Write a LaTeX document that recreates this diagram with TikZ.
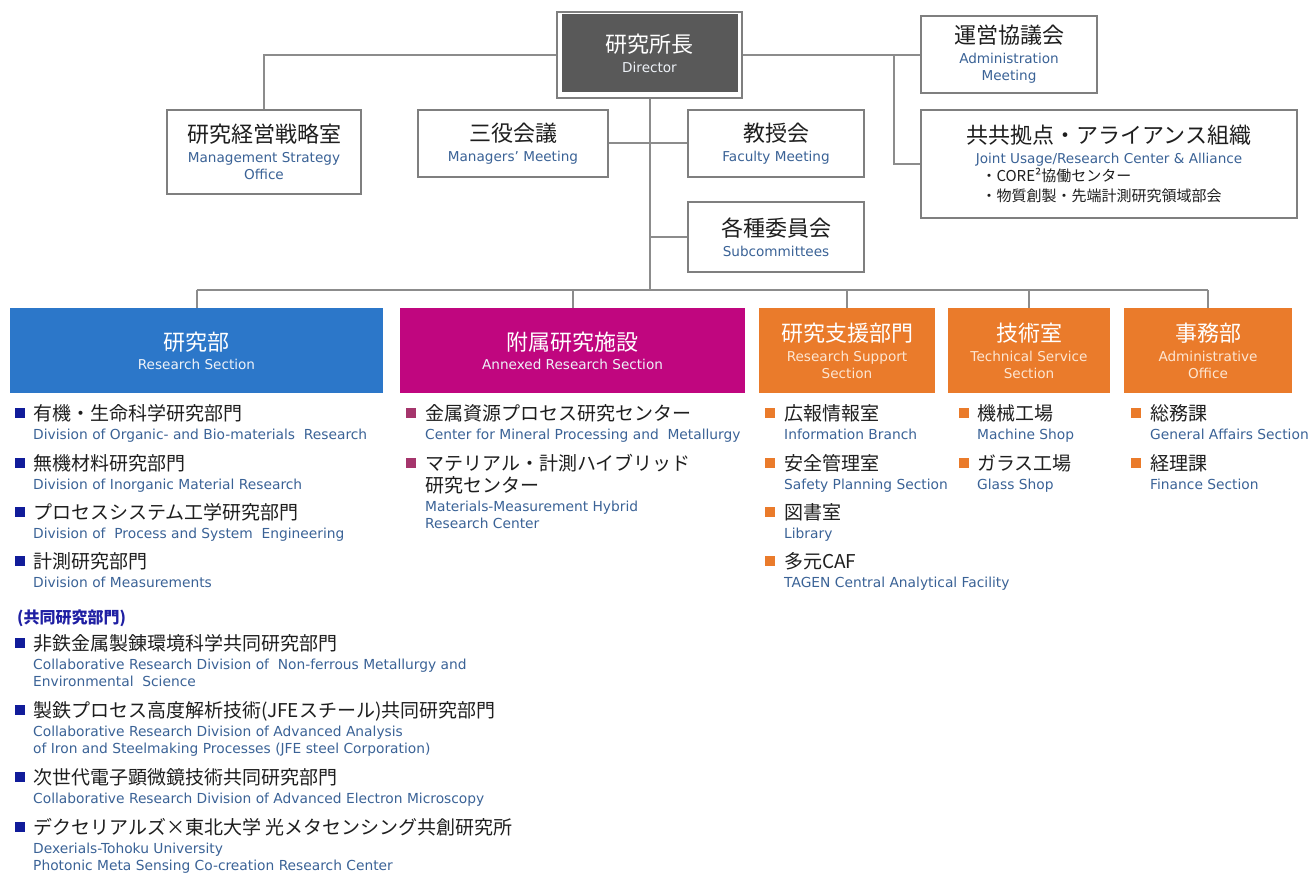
\documentclass[tikz,border=0pt]{standalone}
\usepackage{fontspec}
\setmainfont{DejaVu Sans}
\newfontfamily\jp{Noto Sans CJK JP}
\usetikzlibrary{calc}
\definecolor{entext}{HTML}{3A6296}
\definecolor{boxline}{HTML}{7F7F7F}
\definecolor{conncol}{HTML}{8C8C8C}
\definecolor{dirfill}{HTML}{595959}
\definecolor{resblue}{HTML}{2C77C9}
\definecolor{anxmag}{HTML}{C0067F}
\definecolor{orng}{HTML}{EA7B2B}
\definecolor{bulblue}{HTML}{111C9A}
\definecolor{bulmag}{HTML}{A5356C}
\definecolor{hdrblue}{HTML}{1F1FA3}
\definecolor{jptext}{HTML}{1E1E1E}
\definecolor{paleor}{HTML}{FDE6D2}
\definecolor{palewh}{HTML}{EEF2F8}
\newcommand\JT[1]{{\jp\fontsize{22}{17}\selectfont\color{jptext}#1}}
\newcommand\JW[1]{{\jp\fontsize{22}{17}\selectfont\color{white}#1}}
\newcommand\JL[1]{{\jp\fontsize{19}{17}\selectfont\color{jptext}#1}}
\newcommand\JS[1]{{\jp\fontsize{15}{17}\selectfont\color{jptext}#1}}
\tikzset{
  box/.style={draw=boxline, line width=1.3pt, fill=white, inner sep=0pt, align=center,
    font=\fontsize{13.6}{17}\selectfont, text=entext},
  secbox/.style={fill=#1, inner sep=0pt, align=center, font=\fontsize{13.6}{17}\selectfont},
  conn/.style={draw=conncol, line width=2pt},
  bul/.style={fill=#1, minimum size=10pt, inner sep=0pt},
  itm/.style={anchor=north west, inner sep=0pt, align=left,
    font=\fontsize{13.8}{17}\selectfont, text=entext},
}
\newcommand\orgitem[6]{%
  \node[bul=#5] (#1b) at (#2,#4) {};
  \node[itm] (#1) at (#3,#4-8.5) {#6};}
\begin{document}
\begin{tikzpicture}[x=1pt,y=-1pt]
\useasboundingbox (0,0) rectangle (1313,877);
% ---------- upper boxes
\node[box, minimum width=185pt, minimum height=86pt] (dirO) at (649.5,55) {};
\node[fill=dirfill, minimum width=176pt, minimum height=78pt, inner sep=0pt, align=center,
  text=palewh, font=\fontsize{13.6}{17}\selectfont] (dir) at (649.5,53) {\JW{研究所長}\\[3pt]Director};
\node[box, minimum width=176pt, minimum height=77pt] (adm) at (1009,54.5)
  {\JT{運営協議会}\\[3pt]Administration\\Meeting};
\node[box, minimum width=194pt, minimum height=84pt] (mso) at (264,152)
  {\JT{研究経営戦略室}\\[3pt]Management Strategy\\Office};
\node[box, minimum width=190pt, minimum height=67pt] (san) at (513,143.5)
  {\JT{三役会議}\\[3pt]Managers’ Meeting};
\node[box, minimum width=176pt, minimum height=67pt] (fac) at (776,143.5)
  {\JT{教授会}\\[3pt]Faculty Meeting};
\node[box, minimum width=176pt, minimum height=70pt] (sub) at (776,237)
  {\JT{各種委員会}\\[3pt]Subcommittees};
\node[box, minimum width=376pt, minimum height=108pt] (jus) at (1109,164)
  {\JT{共共拠点・アライアンス組織}\\[3pt]Joint Usage/Research Center \& Alliance\\[1.7pt]
   \JS{\makebox[255pt][l]{・CORE²協働センター}}\\[3pt]
   \JS{\makebox[255pt][l]{・物質創製・先端計測研究領域部会}}};
% ---------- sections
\node[secbox=resblue, minimum width=373pt, minimum height=85pt, text=palewh] (res) at (196.5,350.5)
  {\JW{研究部}\\[2pt]Research Section};
\node[secbox=anxmag, minimum width=345pt, minimum height=85pt, text=palewh] (anx) at (572.5,350.5)
  {\JW{附属研究施設}\\[2pt]Annexed Research Section};
\node[secbox=orng, minimum width=176pt, minimum height=85pt, text=paleor] (sup) at (847,350.5)
  {\JW{研究支援部門}\\[3pt]Research Support\\Section};
\node[secbox=orng, minimum width=162pt, minimum height=85pt, text=paleor] (tec) at (1029,350.5)
  {\JW{技術室}\\[3pt]Technical Service\\Section};
\node[secbox=orng, minimum width=168pt, minimum height=85pt, text=paleor] (adf) at (1208,350.5)
  {\JW{事務部}\\[3pt]Administrative\\Office};
% ---------- connectors
\coordinate (bus) at (649.5,290);
\coordinate (jv) at (894,55);
\draw[conn] (dirO.west) -| (mso.north);
\draw[conn] (dirO.east) -- (dirO.east -| adm.west);
\draw[conn] (jv) |- (jus.west);
\draw[conn] (dirO.south) -- (bus);
\draw[conn] (san.east) -- (san.east -| bus);
\draw[conn] (fac.west) -- (fac.west -| bus);
\draw[conn] (sub.west) -- (sub.west -| bus);
\draw[conn] (res.north |- bus) -- (adf.north |- bus);
\foreach \n in {res,anx,sup,tec,adf} \draw[conn] (\n.north |- bus) -- (\n.north);
% ---------- research section list
\orgitem{La}{19.5}{33}{413}{bulblue}{\JL{有機・生命科学研究部門}\\[1.5pt]Division of Organic- and Bio-materials~ Research}
\orgitem{Lb}{19.5}{33}{463}{bulblue}{\JL{無機材料研究部門}\\[1.5pt]Division of Inorganic Material Research}
\orgitem{Lc}{19.5}{33}{512}{bulblue}{\JL{プロセスシステム工学研究部門}\\[1.5pt]Division of~ Process and System~ Engineering}
\orgitem{Ld}{19.5}{33}{561}{bulblue}{\JL{計測研究部門}\\[1.5pt]Division of Measurements}
\node[anchor=west, inner sep=0pt, text=hdrblue, font=\jp\bfseries\fontsize{16}{17}\selectfont] (collab) at (17,618) {(共同研究部門)};
\orgitem{Le}{19.5}{33}{643}{bulblue}{\JL{非鉄金属製錬環境科学共同研究部門}\\[1.5pt]Collaborative Research Division of~ Non-ferrous Metallurgy and\\Environmental~ Science}
\orgitem{Lf}{19.5}{33}{710}{bulblue}{\JL{製鉄プロセス高度解析技術(JFEスチール)共同研究部門}\\[1.5pt]Collaborative Research Division of Advanced Analysis\\of Iron and Steelmaking Processes (JFE steel Corporation)}
\orgitem{Lg}{19.5}{33}{777}{bulblue}{\JL{次世代電子顕微鏡技術共同研究部門}\\[1.5pt]Collaborative Research Division of Advanced Electron Microscopy}
\orgitem{Lh}{19.5}{33}{827}{bulblue}{\JL{デクセリアルズ×東北大学 光メタセンシング共創研究所}\\[1.5pt]Dexerials-Tohoku University\\Photonic Meta Sensing Co-creation Research Center}
% ---------- annexed
\orgitem{Ma}{410.5}{425}{413}{bulmag}{\JL{金属資源プロセス研究センター}\\[1.5pt]Center for Mineral Processing and~ Metallurgy}
\orgitem{Mb}{410.5}{425}{463}{bulmag}{\JL{マテリアル・計測ハイブリッド}\\[3pt]\JL{研究センター}\\[1.5pt]Materials-Measurement Hybrid\\Research Center}
% ---------- support
\orgitem{Sa}{769.5}{784}{413}{orng}{\JL{広報情報室}\\[1.5pt]Information Branch}
\orgitem{Sb}{769.5}{784}{463}{orng}{\JL{安全管理室}\\[1.5pt]Safety Planning Section}
\orgitem{Sc}{769.5}{784}{512}{orng}{\JL{図書室}\\[1.5pt]Library}
\orgitem{Sd}{769.5}{784}{561}{orng}{\JL{多元CAF}\\[1.5pt]TAGEN Central Analytical Facility}
% ---------- technical
\orgitem{Ta}{963.5}{977}{413}{orng}{\JL{機械工場}\\[1.5pt]Machine Shop}
\orgitem{Tb}{963.5}{977}{463}{orng}{\JL{ガラス工場}\\[1.5pt]Glass Shop}
% ---------- administrative
\orgitem{Aa}{1136}{1150}{413}{orng}{\JL{総務課}\\[1.5pt]General Affairs Section}
\orgitem{Ab}{1136}{1150}{463}{orng}{\JL{経理課}\\[1.5pt]Finance Section}
\end{tikzpicture}
\end{document}
